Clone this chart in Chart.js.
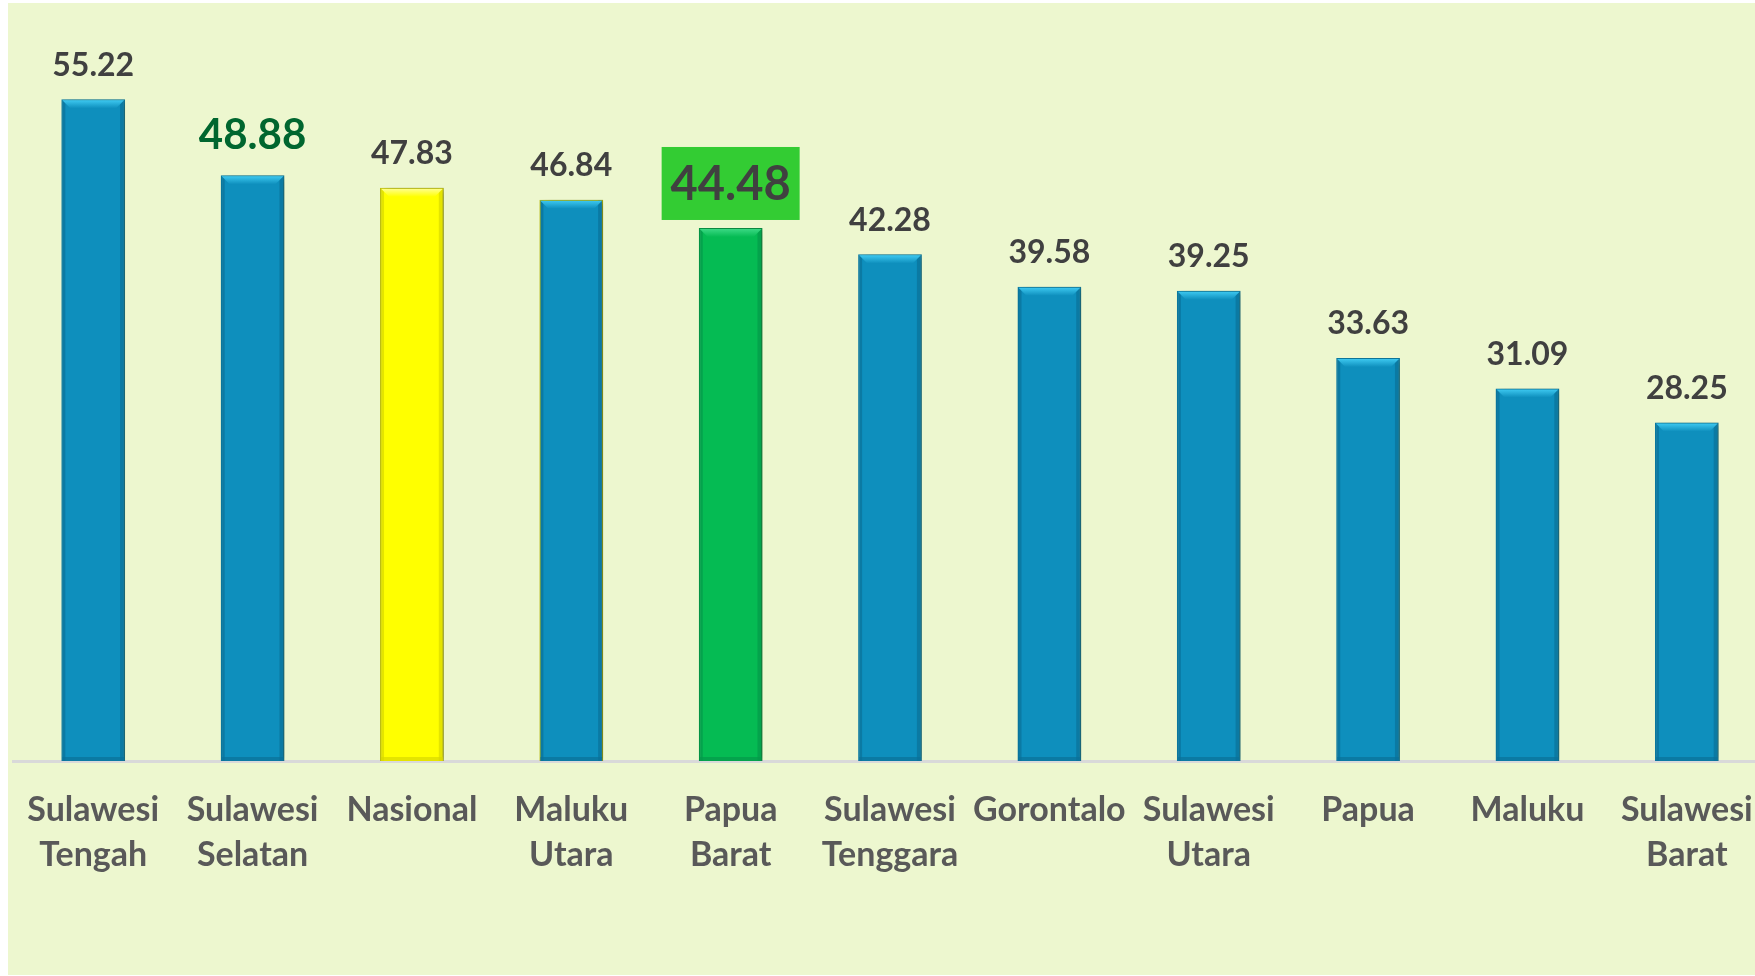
<!DOCTYPE html>
<html lang="id">
<head>
    <meta charset="UTF-8">
    <title>Provinsi</title>
    <script src="https://cdn.jsdelivr.net/npm/chart.js"></script>
    <style>
        html, body { margin: 0; padding: 0; background: #ffffff; overflow: hidden; }
        .bg {
            position: absolute; left: 8px; top: 3px; right: 0; bottom: 1px;
            background: #edf7cf;
        }
        .chart-container {
            position: absolute; left: 0; top: 0;
            width: 1780px; height: 976px;
        }
    </style>
</head>
<body>
    <div class="bg"></div>
    <div class="chart-container">
        <canvas id="provChart"></canvas>
    </div>

    <script>
    const categories = [
        ['Sulawesi', 'Tengah'], ['Sulawesi', 'Selatan'], 'Nasional', ['Maluku', 'Utara'],
        ['Papua', 'Barat'], ['Sulawesi', 'Tenggara'], 'Gorontalo', ['Sulawesi', 'Utara'],
        'Papua', 'Maluku', ['Sulawesi', 'Barat']
    ];
    const values = [55.22, 48.88, 47.83, 46.84, 44.48, 42.28, 39.58, 39.25, 33.63, 31.09, 28.25];

    // which bars get special treatment
    const greenTextIdx = 1;
    const boxedIdx = 4;
    const nationalIdx = 2;
    const yellowBorderIdx = 3;

    const BLUE = '#0e8fbd', YELLOW = '#ffff00', GREEN = '#05bb53';
    const fills = values.map((v, i) => i === nationalIdx ? YELLOW : (i === boxedIdx ? GREEN : BLUE));
    const borders = values.map((v, i) => (i === nationalIdx || i === yellowBorderIdx) ? '#b9b900' : (i === boxedIdx ? '#049445' : '#0a7aa3'));

    function bevelColors(i) {
        if (i === nationalIdx) return { top: '#ffff8a', dark: '#d9d900' };
        if (i === boxedIdx) return { top: '#3ad883', dark: '#04994a' };
        return { top: '#3cc7ef', dark: '#0a7099' };
    }

    const bevelPlugin = {
        id: 'bevel',
        beforeDatasetsDraw(chart) {
            const ctx = chart.ctx;
            ctx.save();
            ctx.shadowColor = 'rgba(60, 70, 40, 0.45)';
            ctx.shadowBlur = 7;
            ctx.shadowOffsetX = 5;
            ctx.shadowOffsetY = 1;
        },
        afterDatasetsDraw(chart) {
            const ctx = chart.ctx;
            ctx.restore();
            const meta = chart.getDatasetMeta(0);
            meta.data.forEach((bar, i) => {
                const c = bevelColors(i);
                const l = bar.x - bar.width / 2 + 1, r = bar.x + bar.width / 2 - 1;
                const t = bar.y + 1, b = bar.base;
                const d = 8;
                ctx.save();
                // side shading
                ctx.fillStyle = c.dark;
                ctx.globalAlpha = 0.7;
                ctx.fillRect(l, t, 3, b - t);
                ctx.fillRect(r - 4, t, 4, b - t);
                ctx.fillRect(l, b - 4, r - l, 4);
                ctx.globalAlpha = 1;
                // top bevel
                const g = ctx.createLinearGradient(0, t, 0, t + d);
                g.addColorStop(0, c.top);
                g.addColorStop(1, fills[i]);
                ctx.fillStyle = g;
                ctx.beginPath();
                ctx.moveTo(l, t);
                ctx.lineTo(r, t);
                ctx.lineTo(r - d, t + d);
                ctx.lineTo(l + d, t + d);
                ctx.closePath();
                ctx.fill();
                ctx.restore();
            });

            // value labels
            meta.data.forEach((bar, i) => {
                const txt = values[i].toFixed(2);
                ctx.save();
                ctx.textAlign = 'center';
                ctx.textBaseline = 'middle';
                if (i === boxedIdx) {
                    ctx.fillStyle = '#33cc33';
                    ctx.fillRect(bar.x - 69, bar.y - 81, 138, 73);
                    ctx.fillStyle = '#404040';
                    ctx.font = 'bold 47px Lato';
                    ctx.fillText(txt, bar.x, bar.y - 43);
                } else if (i === greenTextIdx) {
                    ctx.fillStyle = '#00662f';
                    ctx.font = 'bold 42px Lato';
                    ctx.fillText(txt, bar.x, bar.y - 40);
                } else {
                    ctx.fillStyle = '#404040';
                    ctx.font = 'bold 32px Lato';
                    ctx.fillText(txt, bar.x, bar.y - 34);
                }
                ctx.restore();
            });
        }
    };

    const ctx = document.getElementById('provChart');
    new Chart(ctx, {
        type: 'bar',
        data: {
            labels: categories,
            datasets: [{
                data: values,
                backgroundColor: fills,
                borderColor: borders,
                borderWidth: 1.5,
                barPercentage: 0.4,
                categoryPercentage: 1
            }]
        },
        options: {
            responsive: true,
            maintainAspectRatio: false,
            animation: false,
            layout: { padding: { left: 12, right: 8, top: 42, bottom: 0 } },
            plugins: {
                legend: { display: false },
                tooltip: { enabled: false }
            },
            scales: {
                x: {
                    grid: { display: false, drawTicks: false },
                    border: { display: true, color: '#d9d9d9', width: 3 },
                    ticks: {
                        color: '#595959',
                        padding: 27,
                        maxRotation: 0,
                        autoSkip: false,
                        font: { family: 'Lato', weight: 'bold', size: 34, lineHeight: 1.32 }
                    },
                    afterFit(scale) { scale.height = 215; }
                },
                y: {
                    display: false,
                    min: 0,
                    max: 60
                }
            }
        },
        plugins: [bevelPlugin]
    });
    </script>
</body>
</html>
